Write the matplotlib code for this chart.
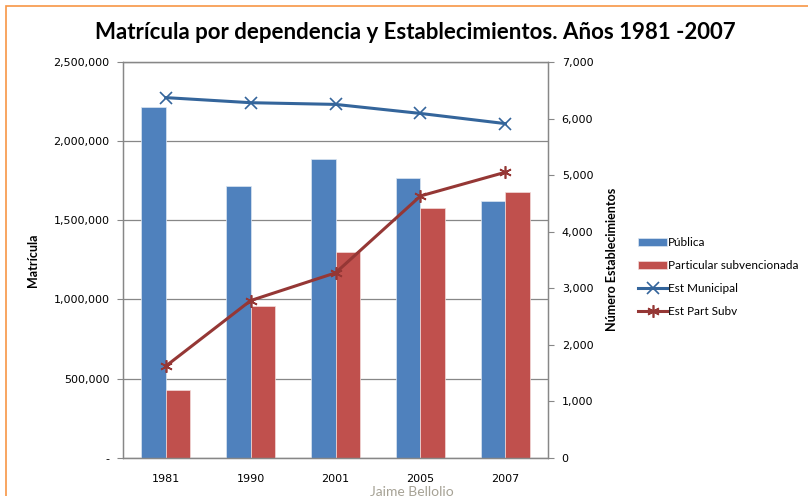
import matplotlib
matplotlib.use("Agg")
import matplotlib.pyplot as plt
import numpy as np
from matplotlib.patches import Rectangle
from matplotlib.ticker import FuncFormatter, MultipleLocator

years = ["1981", "1990", "2001", "2005", "2007"]
publica = [2213000, 1716000, 1887000, 1765000, 1623000]
particular = [428000, 960000, 1301000, 1575000, 1678000]
est_municipal = [6370, 6280, 6250, 6090, 5910]
est_part_subv = [1620, 2780, 3270, 4630, 5050]

title = "Matrícula por dependencia y Establecimientos. Años 1981 -2007"
TITLE_FONT = ["Lato", "DejaVu Sans"]
LBL_FONT = ["Lato", "DejaVu Sans"]

fig = plt.figure(figsize=(8.08, 4.96), dpi=100)
ax = fig.add_axes([0.1526, 0.0772, 0.5254, 0.7978])
ax2 = ax.twinx()

x = np.arange(len(years))
w = 0.286
ax.bar(x - w / 2, publica, w, color="#4F81BD", edgecolor="#DCE6F2", linewidth=0.5,
       label="Pública", zorder=2)
ax.bar(x + w / 2, particular, w, color="#C0504D", edgecolor="#F2DCDB", linewidth=0.5,
       label="Particular subvencionada", zorder=2)

ax2.plot(x, est_municipal, color="#34659B", lw=2.2, marker="x", ms=8, mew=1.2,
         label="Est Municipal")
ax2.plot(x, est_part_subv, color="#953735", lw=2.2, marker=(6, 2, 0), ms=9, mew=1.2,
         label="Est Part Subv")

ax.set_xlim(-0.5, len(years) - 0.5)
ax.set_ylim(0, 2500000)
ax2.set_ylim(0, 7000)
ax.yaxis.set_major_locator(MultipleLocator(500000))
ax2.yaxis.set_major_locator(MultipleLocator(1000))
ax.yaxis.set_major_formatter(FuncFormatter(lambda v, p: "-" if v == 0 else f"{v:,.0f}"))
ax2.yaxis.set_major_formatter(FuncFormatter(lambda v, p: f"{v:,.0f}"))
ax.set_xticks(x)
ax.set_xticklabels(years)

ax.grid(axis="y", color="#878787", lw=0.9, zorder=0)
ax.set_axisbelow(True)
for a in (ax, ax2):
    for s in a.spines.values():
        s.set_color("#878787")
        s.set_linewidth(0.9)
ax.tick_params(axis="y", labelsize=8, length=4, color="#878787", pad=6)
ax2.tick_params(axis="y", labelsize=8, length=4, color="#878787", pad=6)
ax.tick_params(axis="x", labelsize=8, length=0, pad=12)

ax.set_ylabel("Matrícula", fontsize=9, fontweight="bold", family=LBL_FONT, labelpad=10)
ax2.set_ylabel("Número Establecimientos", fontsize=9, fontweight="bold", family=LBL_FONT,
               labelpad=9, rotation=90)

fig.text(0.514, 0.935, title, ha="center", va="center", fontsize=16,
         fontweight="bold", family=TITLE_FONT)

h1, l1 = ax.get_legend_handles_labels()
h2, l2 = ax2.get_legend_handles_labels()
leg = fig.legend(h1 + h2, l1 + l2, loc="upper left", bbox_to_anchor=(0.777, 0.543),
                 frameon=False, prop={"family": LBL_FONT, "size": 8.5},
                 handlelength=2.4, handletextpad=0.1, labelspacing=1.0,
                 handleheight=0.6)

fig.text(0.51, -0.004, "Jaime Bellolio", ha="center", va="bottom", fontsize=10,
         color="#A6A295", family=LBL_FONT)

fig.patches.append(Rectangle((6 / 808, -0.1), 1.2, 1.1 - 6 / 496,
                             transform=fig.transFigure, fill=False,
                             edgecolor="#F79646", lw=1.2))

fig.savefig("out.png", dpi=100)
